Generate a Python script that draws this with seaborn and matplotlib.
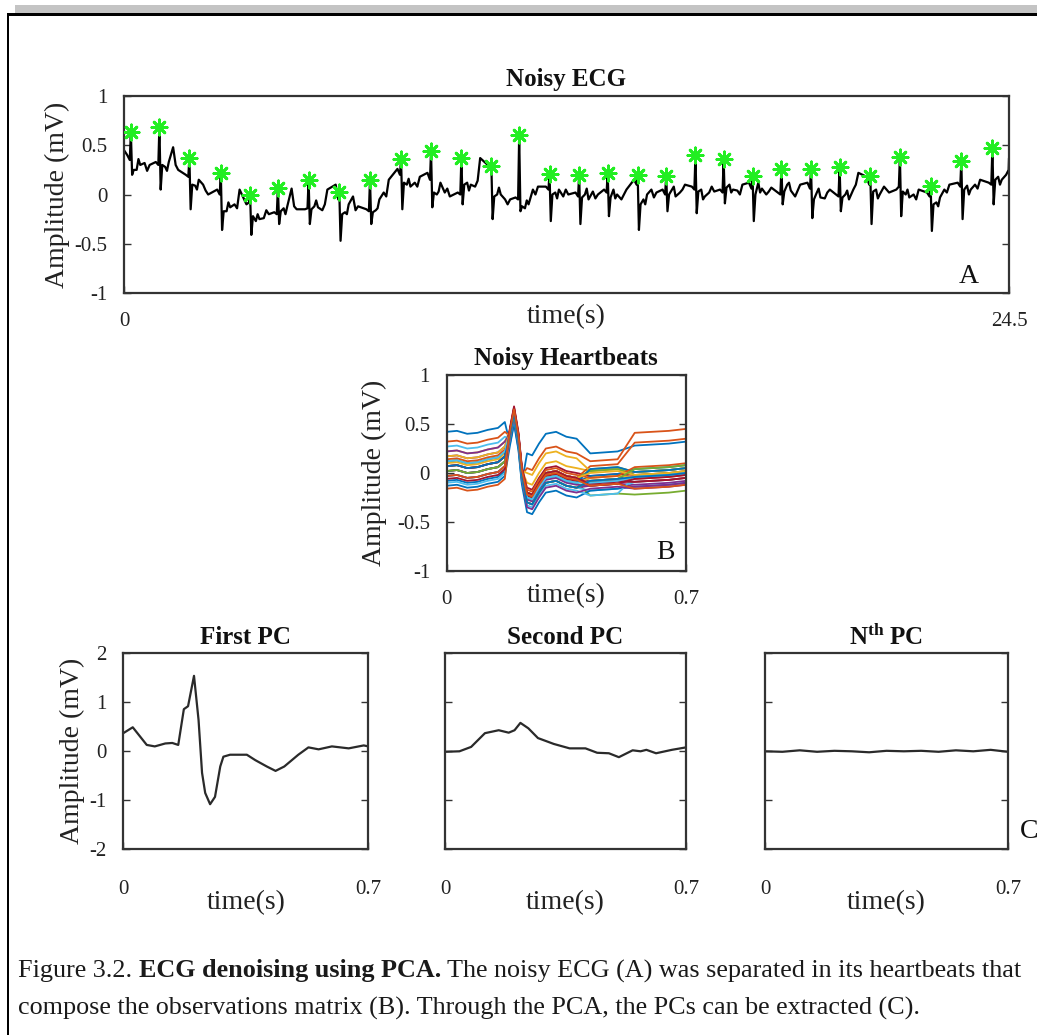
import numpy as np
import pandas as pd
import matplotlib
matplotlib.use("Agg")
import matplotlib.pyplot as plt
import seaborn as sns
from matplotlib.patches import Rectangle

# ---------------- data ----------------
# Panel A: noisy ECG, described beat by beat (R peak time / amplitude and levels around it)
r_time = [0.19, 0.98, 1.81, 2.68, 3.49, 4.26, 5.11, 5.96, 6.81, 7.67, 8.50, 9.34, 10.17, 10.94, 11.78,
          12.60, 13.39, 14.22, 15.01, 15.82, 16.60, 17.40, 18.20, 19.02, 19.81, 20.66, 21.48, 22.33, 23.18, 24.04]
r_amp = [0.63, 0.69, 0.37, 0.22, 0.00, 0.07, 0.15, 0.03, 0.15, 0.36, 0.44, 0.37, 0.29, 0.60, 0.21,
         0.20, 0.22, 0.20, 0.19, 0.40, 0.36, 0.19, 0.26, 0.26, 0.28, 0.19, 0.38, 0.09, 0.34, 0.47]
pre_amp = [0.40, 0.33, 0.20, 0.05, -0.10, -0.18, -0.15, 0.10, -0.15, 0.26, 0.22, 0.02, 0.30, -0.03, 0.08,
           0.02, 0.05, 0.15, 0.05, 0.08, 0.05, 0.12, 0.02, 0.12, 0.00, 0.18, 0.05, 0.02, 0.12, 0.12]
q_amp = [0.35, 0.30, 0.18, 0.00, -0.08, -0.20, -0.14, -0.05, -0.17, 0.20, 0.15, 0.00, 0.25, -0.05, 0.05,
         -0.02, 0.02, 0.10, 0.00, 0.05, 0.02, 0.06, 0.00, 0.06, -0.02, 0.10, 0.08, -0.02, 0.08, 0.10]
s_amp = [0.20, 0.05, -0.15, -0.36, -0.41, -0.30, -0.30, -0.47, -0.30, -0.15, -0.13, -0.10, -0.25, -0.17, -0.27,
         -0.30, -0.22, -0.36, -0.17, -0.19, -0.09, -0.27, -0.10, -0.24, -0.17, -0.30, -0.22, -0.37, -0.25, -0.10]
j_amp = [0.25, 0.30, 0.10, -0.17, -0.22, -0.17, -0.15, -0.20, -0.18, 0.12, 0.02, 0.10, -0.02, -0.12, 0.00,
         -0.03, -0.03, -0.10, 0.00, 0.03, 0.07, 0.00, 0.03, -0.05, -0.03, 0.03, 0.03, -0.10, 0.05, 0.15]
w1_amp = [0.25, 0.28, 0.09, -0.17, -0.27, -0.14, -0.12, -0.18, -0.16, 0.10, 0.00, 0.12, 0.00, -0.14, 0.02,
          0.00, 0.05, -0.05, 0.05, 0.05, 0.10, 0.12, 0.10, 0.02, 0.00, 0.05, 0.00, -0.08, 0.09, 0.18]
n1_amp = [0.36, 0.24, 0.05, -0.08, -0.20, -0.20, -0.06, -0.20, -0.14, 0.16, 0.03, 0.04, 0.07, -0.06, -0.04,
          0.06, -0.04, -0.10, 0.08, -0.05, 0.02, 0.02, 0.12, 0.06, 0.04, -0.04, 0.05, -0.12, 0.00, 0.10]
t_amp = [0.30, 0.33, 0.15, -0.13, -0.25, -0.12, -0.13, -0.10, -0.05, 0.08, 0.12, 0.10, 0.00, -0.10, 0.05,
         -0.05, 0.00, 0.00, -0.02, -0.02, 0.05, 0.06, 0.04, -0.03, -0.05, 0.00, -0.03, -0.03, 0.05, 0.15]
w2_amp = [0.32, 0.48, 0.10, -0.10, -0.24, 0.06, -0.16, -0.02, 0.02, 0.12, 0.02, 0.08, -0.05, 0.05, -0.02,
          0.03, -0.05, 0.05, 0.02, 0.02, 0.04, 0.00, -0.02, -0.04, 0.05, 0.08, 0.00, 0.05, 0.10, 0.20]
n2_amp = [0.24, 0.30, 0.04, -0.14, -0.16, -0.12, -0.10, -0.16, -0.02, 0.08, 0.06, 0.14, -0.10, 0.00, 0.05,
          -0.04, 0.00, -0.03, 0.05, 0.08, 0.00, 0.03, 0.04, 0.02, 0.10, 0.05, -0.05, 0.02, 0.06, 0.25]
late_amp = [0.30, 0.25, 0.00, 0.05, -0.20, -0.15, 0.05, -0.12, 0.15, 0.18, -0.02, 0.37, -0.05, 0.08, 0.00,
            0.00, 0.05, 0.02, 0.10, 0.03, 0.10, 0.07, 0.10, 0.05, 0.22, 0.02, 0.05, 0.10, 0.15, 0.30]
beat_offsets = [-0.10, -0.03, 0.0, 0.035, 0.08, 0.16, 0.21, 0.26, 0.38, 0.45, 0.52]
ecg_start = (0.0, 0.45)
ecg_end = (24.5, 0.37)

# Panel B: heartbeat template and per-beat baseline offsets
hb_t = [0, 0.03, 0.06, 0.09, 0.12, 0.15, 0.17, 0.185, 0.197, 0.21, 0.22, 0.235, 0.25, 0.27, 0.29,
        0.32, 0.35, 0.38, 0.42, 0.46, 0.50, 0.55, 0.60, 0.65, 0.70]
hb_v = [0.02, 0.03, 0.00, 0.01, 0.04, 0.06, 0.12, 0.40, 0.62, 0.35, 0.00, -0.25, -0.27, -0.15, -0.05,
        -0.03, -0.08, -0.10, -0.08, -0.07, -0.06, -0.04, -0.03, -0.02, 0.00]
hb_seg = ['E'] * 7 + ['P'] * 4 + ['M'] * 7 + ['L1'] * 3 + ['L2'] * 4
off_E = [0.40, 0.30, 0.20, 0.15, 0.05, 0.25, 0.10, -0.10, 0.00, 0.05, 0.20, -0.05, -0.12, 0.00, -0.15,
         -0.18, 0.08, 0.05, 0.10, -0.05, 0.05, 0.00, 0.12, 0.15, -0.05, 0.00, 0.10, -0.08, 0.05, -0.05]
off_P = [-0.10, -0.02, 0.03, 0.02, -0.03, -0.05, 0.04, -0.06, 0.00, 0.02, 0.00, -0.04, -0.08, 0.03, -0.12,
         -0.02, 0.01, 0.00, 0.02, -0.05, 0.05, -0.03, 0.02, 0.00, -0.04, -0.02, 0.01, 0.06, -0.01, 0.03]
off_M = [0.45, 0.30, 0.15, 0.05, 0.00, 0.05, 0.10, 0.00, 0.05, 0.25, -0.05, 0.02, -0.05, 0.02, -0.15,
         -0.05, 0.00, -0.02, 0.05, -0.08, 0.05, 0.00, 0.08, 0.05, -0.10, -0.05, 0.00, 0.05, -0.05, 0.03]
off_L1 = [0.28, 0.20, 0.10, 0.00, -0.15, -0.05, 0.05, 0.05, 0.15, 0.10, -0.05, 0.12, -0.10, -0.02, -0.10,
          0.00, 0.03, -0.05, 0.10, -0.15, -0.03, 0.12, 0.03, 0.08, -0.08, 0.00, -0.02, -0.05, 0.00, -0.05]
off_L2 = [0.32, 0.45, 0.05, 0.05, -0.18, 0.00, 0.02, 0.08, 0.35, 0.05, -0.08, 0.05, -0.05, -0.05, -0.10,
          -0.02, 0.00, -0.10, 0.02, 0.00, -0.05, 0.05, 0.10, 0.02, -0.12, 0.08, 0.00, -0.02, 0.00, -0.12]
matlab_colors = ['#0072BD', '#D95319', '#EDB120', '#7E2F8E', '#77AC30', '#4DBEEE', '#A2142F']

# Panel C: principal components
pc1_t = [0, 0.027, 0.067, 0.09, 0.12, 0.14, 0.157, 0.173, 0.185, 0.202, 0.215, 0.225, 0.234, 0.248,
         0.262, 0.277, 0.286, 0.305, 0.353, 0.377, 0.41, 0.435, 0.46, 0.50, 0.529, 0.558, 0.596, 0.644, 0.687, 0.70]
pc1_v = [0.37, 0.49, 0.13, 0.10, 0.16, 0.17, 0.13, 0.86, 0.92, 1.54, 0.64, -0.44, -0.85, -1.08,
         -0.93, -0.31, -0.11, -0.07, -0.07, -0.18, -0.31, -0.40, -0.31, -0.07, 0.08, 0.04, 0.10, 0.06, 0.12, 0.10]
pc2_t = [0, 0.042, 0.076, 0.116, 0.156, 0.185, 0.202, 0.219, 0.242, 0.27, 0.316, 0.362, 0.408, 0.442,
         0.476, 0.505, 0.545, 0.568, 0.585, 0.613, 0.659, 0.70]
pc2_v = [-0.01, 0.0, 0.09, 0.37, 0.43, 0.38, 0.43, 0.58, 0.47, 0.27, 0.15, 0.06, 0.06, -0.03,
         -0.04, -0.12, 0.02, 0.0, 0.03, -0.04, 0.03, 0.08]
pcn_t = [0, 0.05, 0.1, 0.15, 0.2, 0.25, 0.3, 0.35, 0.4, 0.45, 0.5, 0.55, 0.6, 0.65, 0.7]
pcn_v = [0.0, -0.01, 0.02, -0.01, 0.01, 0.0, -0.02, 0.01, 0.0, 0.01, -0.01, 0.02, 0.0, 0.03, -0.01]

# ---------------- build tables ----------------
beat_levels = [pre_amp, q_amp, r_amp, s_amp, j_amp, w1_amp, n1_amp, t_amp, w2_amp, n2_amp, late_amp]
rows = [ecg_start]
for i, rt in enumerate(r_time):
    for off, lv in zip(beat_offsets, beat_levels):
        t = rt + off
        if 0 < t < ecg_end[0]:
            rows.append((t, lv[i]))
rows.append(ecg_end)
ecg_df = pd.DataFrame(rows, columns=['t', 'v']).sort_values('t')
peaks_df = pd.DataFrame({'t': r_time, 'v': r_amp})

seg_offsets = {'E': off_E, 'P': off_P, 'M': off_M, 'L1': off_L1, 'L2': off_L2}
hb_rows = []
for k in range(len(off_E)):
    for t, v, sg in zip(hb_t, hb_v, hb_seg):
        hb_rows.append((k, t, v + seg_offsets[sg][k]))
hb_df = pd.DataFrame(hb_rows, columns=['beat', 't', 'v'])
hb_palette = {k: matlab_colors[k % 7] for k in range(len(off_E))}

# ---------------- figure ----------------
sns.set_theme(style="white")
plt.rcParams['font.family'] = ['Liberation Serif', 'DejaVu Serif']
plt.rcParams.update({'mathtext.fontset': 'custom', 'mathtext.rm': 'Liberation Serif',
                     'mathtext.bf': 'Liberation Serif:bold', 'mathtext.it': 'Liberation Serif:italic'})

W, H = 1037, 1035
fig = plt.figure(figsize=(W / 100, H / 100), dpi=100)
fig.patch.set_facecolor('white')

def fbox(x0, y0, x1, y1):
    return [x0 / W, 1 - y1 / H, (x1 - x0) / W, (y1 - y0) / H]

# decorative frame
fig.add_artist(Rectangle((15 / W, 1 - 13 / H), 1 - 15 / W, 8 / H, transform=fig.transFigure,
                         facecolor='#c4c4c4', edgecolor='none'))
fig.add_artist(Rectangle((7 / W, 1 - 16 / H), 1 - 7 / W, 3 / H, transform=fig.transFigure,
                         facecolor='black', edgecolor='none'))
fig.add_artist(Rectangle((7 / W, 0), 2 / W, 1 - 14 / H, transform=fig.transFigure,
                         facecolor='black', edgecolor='none'))

AX_COL = '#333333'
LAB = 20
TICK = 15

def style(ax, xmax, xtl, yticks, ytl, title, xlabel_y, ylab_x=None, pad_x=14):
    ax.set_xlim(0, xmax)
    ax.set_ylim(yticks[0], yticks[-1])
    ax.set_xticks([0, xmax])
    ax.set_xticklabels(xtl)
    ax.set_yticks(yticks)
    ax.set_yticklabels(ytl)
    ax.tick_params(axis='both', direction='in', length=5, width=1.0, colors=AX_COL,
                   labelsize=TICK, labelcolor='#222222')
    ax.tick_params(axis='y', right=True, left=True, pad=12)
    ax.tick_params(axis='x', bottom=True, top=False, pad=pad_x)
    for s in ax.spines.values():
        s.set_visible(True)
        s.set_linewidth(1.6)
        s.set_color(AX_COL)
    ax.set_title(title, fontsize=LAB - 2, fontweight='bold', pad=7, color='#111111')
    ax.set_xlabel('time(s)', fontsize=LAB, color='#222222')
    ax.xaxis.set_label_coords(0.5, xlabel_y)
    if ylab_x is not None:
        ax.set_ylabel('Amplitude (mV)', fontsize=LAB, color='#222222')
        ax.yaxis.label.set_va('center')
        ax.yaxis.set_label_coords(ylab_x, 0.5)
    else:
        ax.set_ylabel('')

# Panel A
axA = fig.add_axes(fbox(124, 96, 1009, 293))
sns.lineplot(data=ecg_df, x='t', y='v', ax=axA, color='black', linewidth=1.6,
             estimator=None, sort=False)
sns.scatterplot(data=peaks_df, x='t', y='v', ax=axA, marker=(8, 2, 0), s=120,
                color='#22ee22', linewidth=2.0, zorder=5)
style(axA, 24.5, ['0', '24.5'], [-1, -0.5, 0, 0.5, 1], ['-1', '-0.5', '0', '0.5', '1'],
      'Noisy ECG', -0.055, ylab_x=-0.075)
axA.text(0.954, 0.085, 'A', transform=axA.transAxes, fontsize=LAB, ha='center', va='center', color='#111111')

# Panel B
axB = fig.add_axes(fbox(446.7, 375, 686, 571))
sns.lineplot(data=hb_df, x='t', y='v', hue='beat', palette=hb_palette, ax=axB, linewidth=1.3,
             estimator=None, sort=False, legend=False)
style(axB, 0.7, ['0', '0.7'], [-1, -0.5, 0, 0.5, 1], ['-1', '-0.5', '0', '0.5', '1'],
      'Noisy Heartbeats', -0.06, ylab_x=-0.30)
axB.text(0.916, 0.092, 'B', transform=axB.transAxes, fontsize=LAB, ha='center', va='center', color='#111111')

# Panel C
pc_specs = [
    (fbox(123.3, 653.3, 368.3, 849.3), pc1_t, pc1_v, 'First PC', True),
    (fbox(445, 653.3, 686, 849.3), pc2_t, pc2_v, 'Second PC', False),
    (fbox(765, 653.3, 1008, 849.3), pcn_t, pcn_v, r'$\mathbf{N^{th}}$ PC', False),
]
for rect, tt, vv, title, first in pc_specs:
    ax = fig.add_axes(rect)
    sns.lineplot(x=tt, y=vv, ax=ax, color='#2a2a2a', linewidth=1.6, estimator=None, sort=False)
    style(ax, 0.7, ['0', '0.7'], [-2, -1, 0, 1, 2],
          ['-2', '-1', '0', '1', '2'] if first else ['', '', '', '', ''],
          title, -0.21, ylab_x=-0.209 if first else None, pad_x=22)

fig.text(1020 / W, 1 - 832 / H, 'C', fontsize=LAB, ha='left', va='center', color='#111111')

# caption with mixed bold text, sized so that the first line spans the reference width
fig.canvas.draw()
renderer = fig.canvas.get_renderer()
line1 = [("Figure 3.2. ", 'normal'), ("ECG denoising using PCA.", 'bold'),
         (" The noisy ECG (A) was separated in its heartbeats that", 'normal')]
line2 = [("compose the observations matrix (B). Through the PCA, the PCs can be extracted (C).", 'normal')]

def line_width(line, size):
    total = 0
    for txt, wgt in line:
        t = fig.text(0, 0, txt, fontsize=size, fontweight=wgt)
        total += t.get_window_extent(renderer).width
        t.remove()
    return total

base = 17
cap_size = base * (1022 - 18) / line_width(line1, base)
for line, yc in [(line1, 971), (line2, 1008)]:
    x = 18
    for txt, wgt in line:
        t = fig.text(x / W, 1 - yc / H, txt, fontsize=cap_size, fontweight=wgt,
                     ha='left', va='center', color='#1a1a1a')
        x += t.get_window_extent(renderer).width

fig.savefig('out.png', dpi=100, facecolor='white')
